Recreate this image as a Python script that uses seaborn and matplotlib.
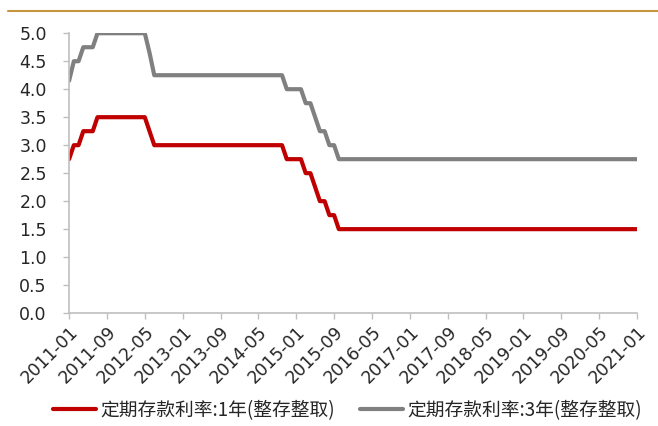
import seaborn as sns
import matplotlib.pyplot as plt
from matplotlib.lines import Line2D
import pandas as pd

sns.set_theme(style="white")
plt.rcParams['font.family'] = ['Noto Sans CJK SC', 'DejaVu Sans']

# monthly, 2011-01 .. 2021-01
months = pd.period_range("2011-01", "2021-01", freq="M").strftime("%Y-%m").tolist()
rate_1y = ([2.75] * 1 + [3.00] * 2 + [3.25] * 3 + [3.50] * 11 + [3.25] * 1 + [3.00] * 28
           + [2.75] * 4 + [2.50] * 2 + [2.25] * 1 + [2.00] * 2 + [1.75] * 2 + [1.50] * 64)
rate_3y = ([4.15] * 1 + [4.50] * 2 + [4.75] * 3 + [5.00] * 11 + [4.65] * 1 + [4.25] * 28
           + [4.00] * 4 + [3.75] * 2 + [3.50] * 1 + [3.25] * 2 + [3.00] * 2 + [2.75] * 64)
names = ["定期存款利率:1年(整存整取)", "定期存款利率:3年(整存整取)"]
colors = ["#C00000", "#808080"]

df = pd.DataFrame({"idx": range(len(months)), names[0]: rate_1y, names[1]: rate_3y})
long = df.melt(id_vars="idx", var_name="series", value_name="rate")

fig = plt.figure(figsize=(6.58, 4.26), dpi=100)
ax = fig.add_axes([0.105, 0.265, 0.863, 0.657])
sns.lineplot(data=long, x="idx", y="rate", hue="series", palette=colors,
             linewidth=3, ax=ax)

for s in ["top", "right"]:
    ax.spines[s].set_visible(False)
for s in ["left", "bottom"]:
    ax.spines[s].set_color("#BFBFBF")
    ax.spines[s].set_linewidth(1.2)
ax.tick_params(axis="both", which="both", direction="out", length=4, width=1,
               color="#BFBFBF", pad=3, bottom=True, left=True)
ax.tick_params(axis="y", pad=12)

ax.set_xlim(0, len(months) - 1)
ax.set_ylim(0, 5)
ax.set_yticks([i * 0.5 for i in range(11)])
ax.set_yticklabels([f"{i * 0.5:.1f}" for i in range(11)], fontsize=12.5,
                   family="DejaVu Sans")
ticks = list(range(0, len(months), 8))
ax.set_xticks(ticks)
ax.set_xticklabels([months[i] for i in ticks], rotation=45, ha="right",
                   rotation_mode="anchor", fontsize=12.5, family="DejaVu Sans")
ax.set_xlabel("")
ax.set_ylabel("")

ax.legend(loc="upper center", bbox_to_anchor=(0.49, -0.25), ncol=2, frameon=False,
          fontsize=13.5, handlelength=2.3, columnspacing=1.3, handletextpad=0.25)

fig.add_artist(Line2D([0.012, 1.0], [0.975, 0.975], color="#C8963E", linewidth=1.5))

fig.savefig("out.png", dpi=100)
